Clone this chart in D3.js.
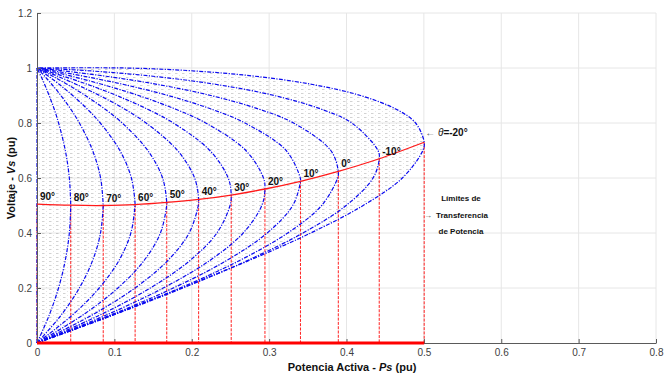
<!DOCTYPE html>
<html>
<head>
<meta charset="utf-8">
<script src="https://cdn.jsdelivr.net/npm/d3@7"></script>
<style>
  html, body { margin: 0; padding: 0; background: #fff; }
  svg { display: block; font-family: "Liberation Sans", Arial, sans-serif; }
</style>
</head>
<body>
<svg id="chart" width="664" height="377"></svg>
<script>
// ---- data ----
const thetaDeg = [90, 80, 70, 60, 50, 40, 30, 20, 10, 0, -10, -20];
const thetaLabels = ["90°", "80°", "70°", "60°", "50°", "40°", "30°", "20°", "10°", "0°", "-10°"];
// shared voltage grid for the curves (pu)
const vGrid = [0, 0.1, 0.2, 0.3, 0.4, 0.5, 0.6, 0.7, 0.8, 0.85, 0.9, 0.94, 0.97, 0.99, 1.0];
// active power of each curve at the voltages of vGrid (pu)
const p90  = [0, 0, 0, 0, 0, 0, 0, 0, 0, 0, 0, 0, 0, 0, 0];
const p80  = [0, 0.0156, 0.0278, 0.0365, 0.0418, 0.0436, 0.0418, 0.0366, 0.0279, 0.0223, 0.0157, 0.0099, 0.0051, 0.0017, 0];
const p70  = [0, 0.0308, 0.0547, 0.0719, 0.0821, 0.0856, 0.0822, 0.0719, 0.0548, 0.0437, 0.0308, 0.0193, 0.0100, 0.0034, 0];
const p60  = [0, 0.0451, 0.0804, 0.1059, 0.1213, 0.1267, 0.1220, 0.1071, 0.0818, 0.0653, 0.0461, 0.0290, 0.0150, 0.0051, 0];
const p50  = [0, 0.0583, 0.1046, 0.1384, 0.1595, 0.1676, 0.1623, 0.1432, 0.1101, 0.0881, 0.0625, 0.0393, 0.0203, 0.0069, 0];
const p40  = [0, 0.0701, 0.1267, 0.1691, 0.1966, 0.2084, 0.2037, 0.1816, 0.1410, 0.1135, 0.0809, 0.0511, 0.0266, 0.0091, 0];
const p30  = [0, 0.0801, 0.1464, 0.1977, 0.2325, 0.2495, 0.2471, 0.2234, 0.1763, 0.1431, 0.1030, 0.0656, 0.0343, 0.0118, 0];
const p20  = [0, 0.0881, 0.1631, 0.2233, 0.2665, 0.2905, 0.2927, 0.2699, 0.2180, 0.1794, 0.1311, 0.0847, 0.0448, 0.0155, 0];
const p10  = [0, 0.0937, 0.1762, 0.2450, 0.2975, 0.3305, 0.3403, 0.3220, 0.2688, 0.2259, 0.1694, 0.1122, 0.0608, 0.0214, 0];
const p0   = [0, 0.0967, 0.1849, 0.2618, 0.3240, 0.3678, 0.3885, 0.3797, 0.3315, 0.2873, 0.2247, 0.1563, 0.0892, 0.0331, 0];
const pm10 = [0, 0.0969, 0.1886, 0.2720, 0.3436, 0.3995, 0.4343, 0.4407, 0.4067, 0.3677, 0.3065, 0.2323, 0.1499, 0.0664, 0];
const pm20 = [0, 0.0941, 0.1865, 0.2741, 0.3538, 0.4215, 0.4722, 0.4987, 0.4893, 0.4643, 0.4180, 0.3563, 0.2821, 0.1990, 0.1148];
// nose points (transfer limits) for each theta
const noseP = [0, 0.0436, 0.0856, 0.1268, 0.1677, 0.2089, 0.2510, 0.2946, 0.3405, 0.3894, 0.4423, 0.5004];
const noseV = [0.505, 0.501, 0.500, 0.503, 0.511, 0.522, 0.538, 0.560, 0.588, 0.624, 0.670, 0.730];
const xTicks = [0, 0.1, 0.2, 0.3, 0.4, 0.5, 0.6, 0.7, 0.8];
const yTicks = [0, 0.2, 0.4, 0.6, 0.8, 1.0, 1.2];

const curvesP = [p90, p80, p70, p60, p50, p40, p30, p20, p10, p0, pm10, pm20];

// ---- layout ----
const svg = d3.select("#chart");
const x = d3.scaleLinear().domain([0, 0.8]).range([37, 656]);
const y = d3.scaleLinear().domain([0, 1.2]).range([343, 13]);

const defs = svg.append("defs");
const pat = defs.append("pattern").attr("id", "hatch")
  .attr("width", 7).attr("height", 4).attr("patternUnits", "userSpaceOnUse");
pat.append("rect").attr("x", 0).attr("y", 1).attr("width", 2.5).attr("height", 0.9).attr("fill", "#666");
pat.append("rect").attr("x", 4).attr("y", 3).attr("width", 1).attr("height", 0.8).attr("fill", "#999");

// grid
const grid = svg.append("g");
grid.selectAll("line.gx").data(xTicks.slice(1)).join("line")
  .attr("x1", d => x(d)).attr("x2", d => x(d)).attr("y1", y(0)).attr("y2", y(1.2))
  .attr("stroke", "#e6e6e6").attr("stroke-width", 1);
grid.selectAll("line.gy").data(yTicks.slice(1)).join("line")
  .attr("x1", x(0)).attr("x2", x(0.8)).attr("y1", d => y(d)).attr("y2", d => y(d))
  .attr("stroke", "#e6e6e6").attr("stroke-width", 1);

// curve point sets
const line = d3.line().x(d => x(d[0])).y(d => y(d[1])).curve(d3.curveCatmullRom.alpha(0.5));
const curvePts = curvesP.map((arr, i) => {
  const pts = vGrid.map((v, j) => [arr[j], v]);
  if (noseP[i] > 0) pts.push([noseP[i], noseV[i]]);
  pts.sort((a, b) => a[1] - b[1]);
  if (arr[arr.length - 1] > 0) pts.push([0, vGrid[vGrid.length - 1]]);
  return pts;
});

// texture inside the envelope
const env = curvePts[curvePts.length - 1];
svg.append("path")
  .attr("d", line(env) + "Z")
  .attr("fill", "url(#hatch)").attr("opacity", 0.33).attr("stroke", "none");

// red vertical dashed lines from each limit
svg.append("g").selectAll("line").data(noseP).join("line")
  .attr("x1", d => x(d)).attr("x2", d => x(d))
  .attr("y1", (d, i) => y(noseV[i])).attr("y2", y(0))
  .attr("stroke", "#ff2020").attr("stroke-width", 1)
  .attr("stroke-dasharray", "3,1.3");

// blue curves
svg.append("g").selectAll("path").data(curvePts).join("path")
  .attr("d", d => line(d))
  .attr("fill", "none").attr("stroke", "#0a0af0").attr("stroke-width", 1.2)
  .attr("stroke-dasharray", "4,1.4,1.2,1.4");

// axes
const axY = svg.append("g").attr("transform", `translate(${x(0)},0)`)
  .call(d3.axisLeft(y).tickValues(yTicks).tickFormat(d3.format("~g")).tickSize(-4).tickSizeOuter(0).tickPadding(5));
const axX = svg.append("g").attr("transform", `translate(0,${y(0)})`)
  .call(d3.axisBottom(x).tickValues(xTicks).tickFormat(d3.format("~g")).tickSize(-4).tickSizeOuter(0).tickPadding(6));
[axX, axY].forEach(a => {
  a.select(".domain").attr("stroke", "#5a5a5a");
  a.selectAll(".tick line").attr("stroke", "#5a5a5a");
  a.selectAll(".tick text").attr("fill", "#404040").style("font-size", "10px")
    .style("font-family", "'Liberation Sans', Arial, sans-serif");
});

// red limit locus
svg.append("path")
  .attr("d", d3.line().x(d => x(d[0])).y(d => y(d[1])).curve(d3.curveCatmullRom)(noseP.map((p, i) => [p, noseV[i]])))
  .attr("fill", "none").attr("stroke", "#ff1a1a").attr("stroke-width", 1.3);

// red base line
svg.append("line")
  .attr("x1", x(0)).attr("x2", x(noseP[noseP.length - 1])).attr("y1", y(0)).attr("y2", y(0))
  .attr("stroke", "#ff0000").attr("stroke-width", 3);

// theta labels
svg.append("g").selectAll("text").data(thetaLabels).join("text")
  .attr("x", (d, i) => x(noseP[i]) + 3)
  .attr("y", (d, i) => y(noseV[i]) - 4)
  .attr("font-size", 10).attr("font-weight", "bold").attr("fill", "#111")
  .text(d => d);

// theta = -20 annotation
const last = noseP.length - 1;
const ann = svg.append("text")
  .attr("x", x(noseP[last]) + 1).attr("y", y(noseV[last]) - 6)
  .attr("font-size", 10).attr("fill", "#111");
ann.append("tspan").attr("fill", "#555").text("\u2190 ");
ann.append("tspan").attr("font-style", "italic").text("\u03B8");
ann.append("tspan").attr("font-weight", "bold").text("=-" + Math.abs(thetaDeg[last]) + "°");

// limits note
const note = svg.append("g").attr("font-size", 8).attr("font-weight", "bold").attr("fill", "#111")
  .attr("text-anchor", "middle");
note.append("text").attr("x", 461).attr("y", 201).text("Límites de");
note.append("text").attr("x", 462).attr("y", 218).text("Transferencia");
note.append("text").attr("x", 461).attr("y", 234).text("de Potencia");
svg.append("text").attr("x", 424).attr("y", 218).attr("font-size", 8).attr("fill", "#555").text("\u2192");

// axis titles
const xt = svg.append("text").attr("x", 352).attr("y", 371).attr("text-anchor", "middle")
  .attr("font-size", 11).attr("font-weight", "bold").attr("fill", "#111");
xt.append("tspan").text("Potencia Activa -  ");
xt.append("tspan").attr("font-style", "italic").text("Ps");
xt.append("tspan").text(" (pu)");

const yt = svg.append("text").attr("transform", "translate(15,178) rotate(-90)").attr("text-anchor", "middle")
  .attr("font-size", 11).attr("font-weight", "bold").attr("fill", "#111");
yt.append("tspan").text("Voltaje - ");
yt.append("tspan").attr("font-style", "italic").text("Vs");
yt.append("tspan").text(" (pu)");
</script>
</body>
</html>
